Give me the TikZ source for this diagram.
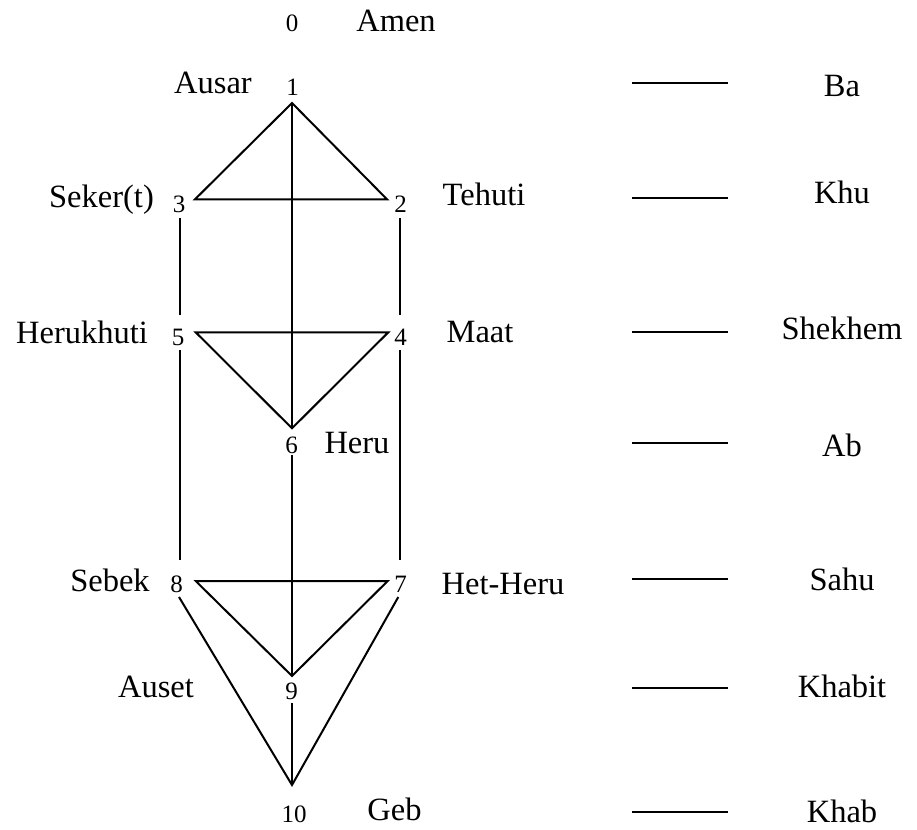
\documentclass[tikz,border=0pt]{standalone}
\usepackage{fontspec}
\setmainfont{Liberation Serif}
\begin{document}
\begin{tikzpicture}[x=1pt,y=-1pt,
  num/.style={anchor=base,inner sep=0pt,font=\fontsize{25}{25}\selectfont},
  lbl/.style={anchor=base,inner sep=0pt,font=\fontsize{32.5}{32.5}\selectfont},
  ln/.style={line width=2pt,line cap=butt,line join=miter}]
\useasboundingbox (0,0) rectangle (917,829);
% digits
\node[num] (d0) at (292,32) {0};
\node[num] (d1) at (292.5,95.7) {1};
\node[num] (d3) at (179,212) {3};
\node[num] (d2) at (400.7,212) {2};
\node[num] (d5) at (178,345) {5};
\node[num] (d4) at (400.7,345) {4};
\node[num] (d6) at (291.7,453) {6};
\node[num] (d8) at (176.7,592) {8};
\node[num] (d7) at (400.7,592) {7};
\node[num] (d9) at (291.7,699) {9};
\node[num] (d10) at (294,822) {10};
% names
\node[lbl] (amen) at (396,32) {Amen};
\node[lbl] (ausar) at (213,94) {Ausar};
\node[lbl] (seker) at (101.5,207) {Seker(t)};
\node[lbl] (tehuti) at (484,205) {Tehuti};
\node[lbl] (herukhuti) at (82,343) {Herukhuti};
\node[lbl] (maat) at (480,342) {Maat};
\node[lbl] (heru) at (357,453) {Heru};
\node[lbl] (sebek) at (110,591) {Sebek};
\node[lbl] (hetheru) at (503,594) {Het-Heru};
\node[lbl] (auset) at (156,697) {Auset};
\node[lbl] (geb) at (394.5,820) {Geb};
% vertices
\coordinate (v1) at (292,103);
\coordinate (v3) at (195,199.3);
\coordinate (v2) at (387,199.3);
\coordinate (v5) at (195.7,332.3);
\coordinate (v4) at (388.3,332.3);
\coordinate (v6) at (292,428.3);
\coordinate (v6b) at (292,455);
\coordinate (v8) at (195.7,581);
\coordinate (v7) at (387.7,581);
\coordinate (v9) at (292,676);
\coordinate (v9b) at (292,703);
\coordinate (v10) at (292,785);
\coordinate (l3b) at (180,218);
\coordinate (l5t) at (180,315);
\coordinate (l5b) at (180,350);
\coordinate (l8t) at (180,560);
\coordinate (r2b) at (399.5,218);
\coordinate (r4t) at (399.5,315);
\coordinate (r4b) at (399.5,350);
\coordinate (r7t) at (399.5,560);
\coordinate (l8b) at (179,597);
\coordinate (r7b) at (398.3,597);
% connectors
\draw[ln] (v3) -- (v1) -- (v2) -- cycle;
\draw[ln] (v1) -- (v6);
\draw[ln] (l3b) -- (l5t);
\draw[ln] (r2b) -- (r4t);
\draw[ln] (v5) -- (v4) -- (v6) -- cycle;
\draw[ln] (l5b) -- (l8t);
\draw[ln] (r4b) -- (r7t);
\draw[ln] (v6b) -- (v9);
\draw[ln] (v8) -- (v7) -- (v9) -- cycle;
\draw[ln] (v9b) -- (v10);
\draw[ln] (l8b) -- (v10) -- (r7b);
% right column
\foreach \n/\y/\b/\t in {ba/82.7/96.7/Ba, khu/197.7/203.3/Khu, shekhem/331.7/339.3/Shekhem, ab/442.7/456.7/Ab, sahu/579/590.7/Sahu, khabit/687.7/697.3/Khabit, khab/811.7/822/Khab}{
  \coordinate (\n L) at (632,\y);
  \coordinate (\n R) at (728,\y);
  \draw[ln] (\n L) -- (\n R);
  \node[lbl] (\n) at (842,\b) {\t};
}
\end{tikzpicture}
\end{document}
